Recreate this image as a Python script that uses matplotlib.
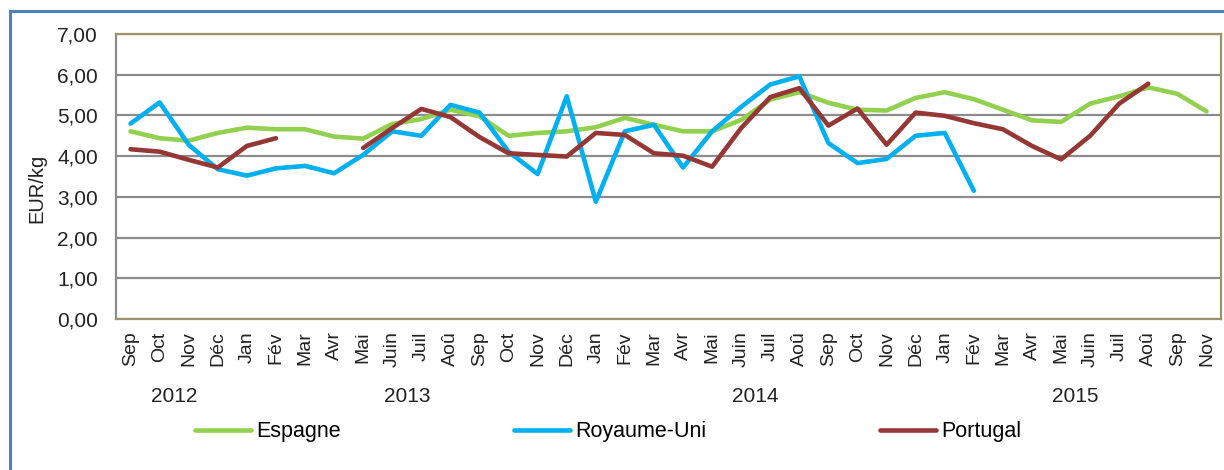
import matplotlib
matplotlib.use("Agg")
import matplotlib.pyplot as plt
import matplotlib.transforms as mtransforms
from matplotlib.lines import Line2D
import numpy as np

plt.rcParams['font.family'] = ['Liberation Sans', 'DejaVu Sans']

months = ["Sep", "Oct", "Nov", "Déc",
          "Jan", "Fév", "Mar", "Avr", "Mai", "Juin", "Juil", "Aoû", "Sep", "Oct", "Nov", "Déc",
          "Jan", "Fév", "Mar", "Avr", "Mai", "Juin", "Juil", "Aoû", "Sep", "Oct", "Nov", "Déc",
          "Jan", "Fév", "Mar", "Avr", "Mai", "Juin", "Juil", "Aoû", "Sep", "Nov"]
years = ["2012", "2013", "2014", "2015"]
year_sizes = [4, 12, 12, 10]

espagne = [4.61, 4.44, 4.38, 4.57, 4.70, 4.66, 4.66, 4.48, 4.43, 4.79,
           4.91, 5.14, 4.98, 4.50, 4.57, 4.61, 4.71, 4.94, 4.77, 4.61,
           4.61, 4.89, 5.39, 5.57, 5.31, 5.14, 5.12, 5.43, 5.57, 5.40,
           5.14, 4.88, 4.84, 5.29, 5.47, 5.69, 5.53, 5.10]
royaume_uni = [4.80, 5.32, 4.28, 3.68, 3.52, 3.70, 3.76, 3.58, 4.03, 4.61,
               4.50, 5.26, 5.07, 4.11, 3.56, 5.47, 2.88, 4.61, 4.77, 3.72,
               4.61, 5.21, 5.76, 5.96, 4.32, 3.83, 3.93, 4.50, 4.57, 3.15,
               None, None, None, None, None, None, None, None]
portugal = [4.17, 4.11, 3.91, 3.72, 4.25, 4.44, None, None, 4.20, 4.69,
            5.16, 4.96, 4.47, 4.07, 4.03, 3.99, 4.57, 4.52, 4.07, 4.01,
            3.74, 4.69, 5.45, 5.67, 4.75, 5.17, 4.28, 5.07, 4.99, 4.81,
            4.66, 4.25, 3.92, 4.50, 5.29, 5.78, None, None]

def arr(v):
    return np.array([np.nan if x is None else x for x in v], dtype=float)

fig = plt.figure(figsize=(12.24, 4.70), dpi=100)
ax = fig.add_axes([116 / 1224, 1 - 319 / 470, 1105 / 1224, 285 / 470])

x = np.arange(len(months))
ax.plot(x, arr(espagne), color="#92d050", lw=3.3, label="Espagne", solid_capstyle="round")
ax.plot(x, arr(royaume_uni), color="#00b0f0", lw=3.3, label="Royaume-Uni", solid_capstyle="round")
ax.plot(x, arr(portugal), color="#953735", lw=3.3, label="Portugal", solid_capstyle="round")

ax.set_xlim(-0.5, len(months) - 0.5)
ax.set_ylim(0, 7)
ax.set_yticks(np.arange(0, 8))
ax.set_yticklabels([f"{v:.2f}".replace(".", ",") for v in range(8)], fontsize=15)
ax.yaxis.grid(True, color="#8c8c8c", lw=1.6)
ax.set_axisbelow(True)
ax.tick_params(axis="y", length=0, pad=13, labelcolor="#222222")

ax.set_xticks(x)
ax.set_xticklabels(months, rotation=90, fontsize=14, color="#222222")
ax.tick_params(axis="x", length=0, pad=9)

ax.spines["left"].set_color("#8c8c8c")
ax.spines["left"].set_linewidth(1.6)
for s in ["top", "right", "bottom"]:
    ax.spines[s].set_color("#9c9468")
    ax.spines[s].set_linewidth(1.6)

# year labels centred under each group of months
trans = mtransforms.blended_transform_factory(ax.transData, fig.transFigure)
start = 0
for yr, n in zip(years, year_sizes):
    ax.text(start + (n - 1) / 2, 1 - 396 / 470, yr, transform=trans,
            ha="center", va="center", fontsize=15, color="#222222")
    start += n

fig.text(37 / 1224, 1 - 188 / 470, "EUR/kg", rotation=90, ha="center", va="center",
         fontsize=14.5, color="#222222")

fig.legend(loc="center", bbox_to_anchor=(608 / 1224, 1 - 432 / 470), ncol=3, frameon=False,
           fontsize=15.5, handlelength=2.6, handletextpad=0.25, columnspacing=8.05)

# blue frame around the chart
fig.add_artist(Line2D([10 / 1224, 10 / 1224], [0, 1 - 11 / 470], color="#4f81bd", lw=2.2,
                      transform=fig.transFigure))
fig.add_artist(Line2D([10 / 1224, 1], [1 - 11 / 470, 1 - 11 / 470], color="#4f81bd", lw=2.2,
                      transform=fig.transFigure))

fig.savefig("out.png", dpi=100)
